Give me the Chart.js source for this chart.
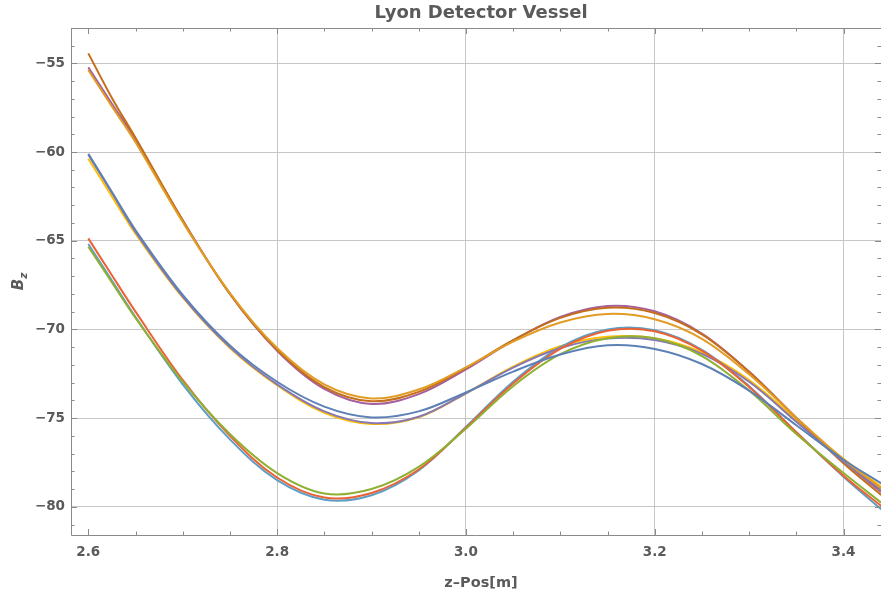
<!DOCTYPE html>
<html>
<head>
<meta charset="utf-8">
<script src="https://cdn.jsdelivr.net/npm/chart.js@4/dist/chart.umd.min.js"></script>
<style>
  html, body { margin: 0; padding: 0; background: #ffffff; }
  canvas { display: block; }
</style>
</head>
<body>
<canvas id="chart" width="881" height="597"></canvas>
<script>
// Longitudinal position along the vessel, metres
const zPos = [2.6, 2.625, 2.65, 2.7, 2.75, 2.8, 2.85, 2.9, 2.95, 3.0, 3.05, 3.1, 3.15, 3.2, 3.25, 3.3, 3.35, 3.4, 3.44];

// Bz field profiles, one list per scan line
const bz1 = [-60.10, -62.25, -64.40, -68.05, -70.90, -72.95, -74.35, -74.96, -74.62, -73.55, -72.38, -71.42, -70.90, -71.10, -71.95, -73.45, -75.40, -77.35, -78.68];
const bz2 = [-55.38, -57.43, -59.45, -63.95, -67.95, -71.05, -73.10, -73.89, -73.39, -72.14, -70.69, -69.61, -69.13, -69.43, -70.53, -72.53, -74.98, -77.33, -78.96];
const bz3 = [-65.34, -67.35, -69.35, -72.95, -75.90, -78.10, -79.25, -79.00, -77.75, -75.60, -73.20, -71.40, -70.50, -70.50, -71.50, -73.45, -75.90, -78.10, -79.77];
const bz4 = [-64.87, -66.95, -69.00, -72.85, -76.00, -78.35, -79.48, -79.22, -77.90, -75.55, -73.05, -71.10, -70.08, -70.10, -71.20, -73.25, -75.80, -78.25, -79.96];
const bz5 = [-60.15, -62.30, -64.50, -68.15, -71.00, -73.10, -74.62, -75.28, -74.92, -73.60, -72.15, -71.05, -70.52, -70.60, -71.38, -72.95, -75.20, -77.45, -79.05];
const bz6 = [-54.44, -56.95, -59.20, -63.85, -68.00, -71.15, -73.25, -74.05, -73.52, -72.17, -70.60, -69.35, -68.78, -69.08, -70.28, -72.40, -75.00, -77.55, -79.34];
const bz7 = [-65.19, -67.25, -69.30, -73.10, -76.20, -78.50, -79.60, -79.35, -77.95, -75.50, -72.95, -71.00, -70.00, -70.05, -71.15, -73.20, -75.80, -78.30, -80.14];
const bz8 = [-60.38, -62.50, -64.60, -68.20, -71.05, -73.15, -74.70, -75.33, -74.95, -73.60, -72.10, -70.95, -70.42, -70.50, -71.30, -72.85, -75.10, -77.30, -78.87];
const bz9 = [-55.23, -57.28, -59.30, -63.85, -68.00, -71.20, -73.35, -74.20, -73.65, -72.25, -70.63, -69.30, -68.68, -68.98, -70.23, -72.38, -74.98, -77.43, -79.17];

const seriesValues = [bz1, bz2, bz3, bz4, bz5, bz6, bz7, bz8, bz9];
const seriesColors = ['#5E81B5', '#E19C24', '#8FB032', '#EB6235', '#8778B3', '#C56E1A', '#5D9EC7', '#FFBF00', '#A5609D'];

// Axis ticks
const xTicks = [2.6, 2.8, 3.0, 3.2, 3.4];
const xGridLines = [2.8, 3.0, 3.2, 3.4];
const xMinorTicks = [2.65, 2.7, 2.75, 2.85, 2.9, 2.95, 3.05, 3.1, 3.15, 3.25, 3.3, 3.35];
const yTicks = [-80, -75, -70, -65, -60, -55];
const yMinorTicks = [-81, -79, -78, -77, -76, -74, -73, -72, -71, -69, -68, -67, -66, -64, -63, -62, -61, -59, -58, -57, -56, -54];

const xRange = [2.58167, 3.43972];
const yRange = [-81.59, -53.01];

const FONT = '"DejaVu Sans", "Liberation Sans", sans-serif';
const TEXT_GRAY = '#5a5a5a';
const FRAME_GRAY = '#8a8a8a';
const GRID_GRAY = '#c6c6c6';

const datasets = seriesValues.map((vals, i) => ({
  label: 'scan ' + (i + 1),
  data: zPos.map((z, k) => ({ x: z, y: vals[k] })),
  borderColor: seriesColors[i],
  backgroundColor: seriesColors[i],
  borderWidth: 2,
  pointRadius: 0,
  fill: false,
  tension: 0.35
}));

// Frame with inward ticks, plus title and axis labels
const framePlugin = {
  id: 'frameAndLabels',
  afterDatasetsDraw(chart) {
    const { ctx, chartArea: a, scales } = chart;
    const sx = scales.x, sy = scales.y;
    ctx.save();
    ctx.strokeStyle = FRAME_GRAY;
    ctx.lineWidth = 1;
    ctx.beginPath();
    ctx.moveTo(a.left + 0.5, a.top + 0.5);
    ctx.lineTo(a.right + 1, a.top + 0.5);
    ctx.moveTo(a.left + 0.5, a.top);
    ctx.lineTo(a.left + 0.5, a.bottom + 0.5);
    ctx.lineTo(a.right + 1, a.bottom + 0.5);
    ctx.stroke();

    const xTick = (v, len) => {
      const p = Math.round(sx.getPixelForValue(v)) + 0.5;
      ctx.moveTo(p, a.bottom); ctx.lineTo(p, a.bottom - len);
      ctx.moveTo(p, a.top); ctx.lineTo(p, a.top + len);
    };
    const yTick = (v, len) => {
      const p = Math.round(sy.getPixelForValue(v)) + 0.5;
      ctx.moveTo(a.left, p); ctx.lineTo(a.left + len, p);
      ctx.moveTo(a.right, p); ctx.lineTo(a.right - len, p);
    };
    ctx.beginPath();
    xTicks.forEach(v => xTick(v, 6));
    xMinorTicks.forEach(v => xTick(v, 3.5));
    yTicks.forEach(v => yTick(v, 6));
    yMinorTicks.forEach(v => yTick(v, 3.5));
    ctx.stroke();

    const cx = (a.left + a.right) / 2 + 5;
    ctx.fillStyle = TEXT_GRAY;
    ctx.textAlign = 'center';
    ctx.textBaseline = 'middle';
    ctx.font = 'bold 18px ' + FONT;
    ctx.fillText('Lyon Detector Vessel', cx, 13);
    ctx.font = 'bold 14.5px ' + FONT;
    ctx.fillText('z\u2013Pos[m]', cx, 583);

    // rotated B_z label
    const cy = (a.top + a.bottom) / 2;
    ctx.translate(18, cy);
    ctx.rotate(-Math.PI / 2);
    ctx.textAlign = 'left';
    ctx.textBaseline = 'alphabetic';
    ctx.font = 'italic bold 15px ' + FONT;
    const wB = ctx.measureText('B').width;
    ctx.font = 'italic bold 10.5px ' + FONT;
    const wz = ctx.measureText('z').width;
    const x0 = -(wB + wz) / 2;
    ctx.font = 'italic bold 15px ' + FONT;
    ctx.fillText('B', x0, 5);
    ctx.font = 'italic bold 10.5px ' + FONT;
    ctx.fillText('z', x0 + wB, 8.5);
    ctx.restore();
  }
};

new Chart(document.getElementById('chart'), {
  type: 'line',
  data: { datasets },
  options: {
    responsive: false,
    animation: false,
    devicePixelRatio: 1,
    layout: { padding: { top: 28, right: 0, left: 0, bottom: 0 } },
    plugins: {
      legend: { display: false },
      tooltip: { enabled: false },
      title: { display: false }
    },
    scales: {
      x: {
        type: 'linear',
        min: xRange[0],
        max: xRange[1],
        afterBuildTicks: s => { s.ticks = xTicks.map(v => ({ value: v })); },
        afterFit: s => { s.height = 62; },
        ticks: {
          autoSkip: false,
          maxRotation: 0,
          padding: 9,
          color: TEXT_GRAY,
          font: { family: FONT, size: 13.5, weight: 'bold' },
          callback: v => Number(v).toFixed(1)
        },
        grid: {
          drawTicks: false,
          lineWidth: 1,
          color: c => (c.tick && xGridLines.some(g => Math.abs(g - c.tick.value) < 1e-9)) ? GRID_GRAY : 'rgba(0,0,0,0)'
        },
        border: { display: false }
      },
      y: {
        type: 'linear',
        min: yRange[0],
        max: yRange[1],
        afterBuildTicks: s => { s.ticks = yTicks.map(v => ({ value: v })); },
        afterFit: s => { s.width = 71; },
        ticks: {
          autoSkip: false,
          padding: 6,
          color: TEXT_GRAY,
          font: { family: FONT, size: 13.5, weight: 'bold' },
          callback: v => (v < 0 ? '\u2212' : '') + Math.abs(v)
        },
        grid: { drawTicks: false, lineWidth: 1, color: GRID_GRAY },
        border: { display: false }
      }
    }
  },
  plugins: [framePlugin]
});
</script>
</body>
</html>
